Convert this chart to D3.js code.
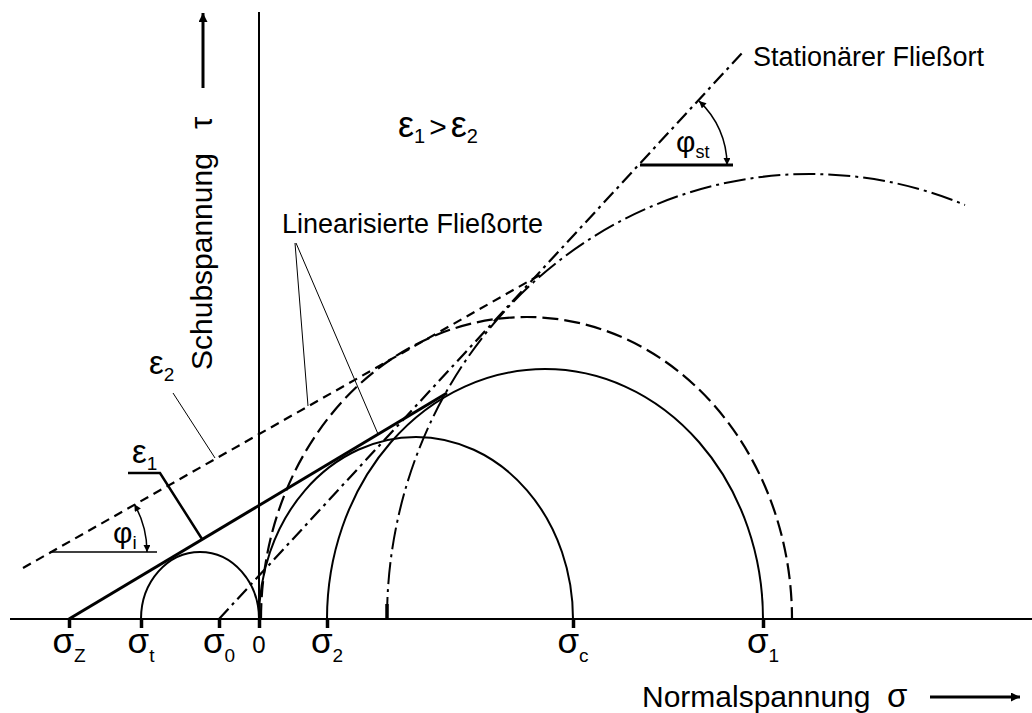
<!DOCTYPE html>
<html>
<head>
<meta charset="utf-8">
<script src="https://cdn.jsdelivr.net/npm/d3@7"></script>
<style>
  body { margin: 0; background: #fff; }
  svg { display: block; }
  text { font-family: "Liberation Sans", Arial, Helvetica, sans-serif; fill: #000; }
</style>
</head>
<body>
<svg id="chart" width="1032" height="713"></svg>
<script>
// ---- Mohr diagram data (stress units, σ along x, τ along y) ----

// marked normal stresses on the σ axis
const tickValues = [-19.0, -11.8, -4.0, 0, 6.8, 31.4, 50.4];
const tickBase   = ["σ", "σ", "σ", "0", "σ", "σ", "σ"];
const tickSub    = ["Z", "t", "0", "", "2", "c", "1"];

// Mohr circles: left / right intersection with σ axis, peak τ, optional σ where the arc stops
const circleNames = ["small", "medium", "large", "mediumDashed", "bigDashed"];
const circleLeft  = [-11.8, 0.0, 6.8, 0.2, 12.8];
const circleRight = [0.0, 31.4, 50.4, 53.3, 97.4];
const circleTop   = [6.7, 18.2, 25.0, 30.2, 44.5];
const circleEnd   = [null, null, null, null, 70.6];

// yield loci as straight lines [σ, τ]
const lineNames = ["eps1", "eps2", "stationary"];
const lineStart = [[-19.0, 0.0], [-23.6, 5.1], [-4.0, 0.0]];
const lineEnd   = [[18.8, 22.6], [28.6, 34.7], [48.4, 56.7]];

// leader lines pointing from labels to the loci
const leaderLinearA = [[3.6, 37.6], [4.9, 21.3]];
const leaderLinearB = [[3.7, 37.6], [11.9, 18.5]];
const leaderEps2    = [[-8.6, 22.6], [-4.4, 16.1]];
const leaderEps1    = [[-13.1, 14.6], [-9.9, 14.6], [-5.7, 8.0]];

// friction angle markers: vertex [σ, τ], length of horizontal leg, arc radius
const angleNames  = ["phi_i", "phi_st"];
const angleVertex = [[-20.9, 6.7], [38.1, 45.4]];
const angleLeg    = [10.7, 9.3];
const angleRadius = [9.7, 8.7];
const angleLine   = ["eps2", "stationary"];

// ---- scales ----
const x = d3.scaleLinear().domain([0, 10]).range([259, 359]);
const y = d3.scaleLinear().domain([0, 10]).range([619, 519]);

const svg = d3.select("#chart");

// arrow markers
const defs = svg.append("defs");
defs.append("marker")
  .attr("id", "head")
  .attr("viewBox", "0 0 10 10")
  .attr("refX", 10).attr("refY", 5)
  .attr("markerUnits", "userSpaceOnUse")
  .attr("markerWidth", 9).attr("markerHeight", 7)
  .attr("orient", "auto-start-reverse")
  .append("path").attr("d", "M0,0 L10,5 L0,10 Z").attr("fill", "#000");

defs.append("marker")
  .attr("id", "bighead")
  .attr("viewBox", "0 0 10 10")
  .attr("refX", 10).attr("refY", 5)
  .attr("markerUnits", "userSpaceOnUse")
  .attr("markerWidth", 14).attr("markerHeight", 9)
  .attr("orient", "auto")
  .append("path").attr("d", "M0,0 L10,5 L0,10 Z").attr("fill", "#000");

// ---- axes ----
svg.append("line")
  .attr("x1", x(-24.9)).attr("x2", x(77.3))
  .attr("y1", y(0)).attr("y2", y(0))
  .attr("stroke", "#000").attr("stroke-width", 2);

svg.append("line")
  .attr("x1", x(0)).attr("x2", x(0))
  .attr("y1", y(0)).attr("y2", y(60.7))
  .attr("stroke", "#000").attr("stroke-width", 2);

const axisG = svg.append("g").attr("transform", `translate(0,${y(0)})`);
axisG.call(d3.axisBottom(x).tickValues(tickValues).tickSizeInner(9).tickSizeOuter(0).tickFormat(""));
axisG.select(".domain").remove();
axisG.selectAll(".tick line").attr("stroke", "#000").attr("stroke-width", 3.5);

tickValues.forEach((v, i) => {
  const t = svg.append("text")
    .attr("x", x(v)).attr("y", 653)
    .attr("text-anchor", "middle");
  if (tickSub[i]) {
    t.append("tspan").attr("font-size", 35).text(tickBase[i]);
    t.append("tspan").attr("font-size", 19).attr("dy", 9).text(tickSub[i]);
  } else {
    t.attr("font-size", 24).text(tickBase[i]);
  }
});

// axis titles
svg.append("text")
  .attr("transform", "translate(212,370) rotate(-90)")
  .attr("font-size", 30).text("Schubspannung");
svg.append("text")
  .attr("transform", "translate(212,129) rotate(-90)")
  .attr("font-size", 31).text("τ");
svg.append("line")
  .attr("x1", 203).attr("x2", 203).attr("y1", 88).attr("y2", 13)
  .attr("stroke", "#000").attr("stroke-width", 3)
  .attr("marker-end", "url(#bighead)");

svg.append("text").attr("x", 642).attr("y", 707).attr("font-size", 30).text("Normalspannung");
svg.append("text").attr("x", 887).attr("y", 707).attr("font-size", 33).text("σ");
svg.append("line")
  .attr("x1", 930).attr("x2", 1020).attr("y1", 697).attr("y2", 697)
  .attr("stroke", "#000").attr("stroke-width", 3)
  .attr("marker-end", "url(#bighead)");

// ---- Mohr circles ----
const circleStyle = {
  small:        { width: 2, dash: null },
  medium:       { width: 2, dash: null },
  large:        { width: 2, dash: null },
  mediumDashed: { width: 2.2, dash: "16,6" },
  bigDashed:    { width: 2, dash: "22,5,3,5" }
};

circleNames.forEach((name, i) => {
  const l = circleLeft[i], r = circleRight[i];
  const cx = x((l + r) / 2);
  const rx = x(r) - cx;
  const ry = y(0) - y(circleTop[i]);
  let ex = x(r), ey = y(0);
  if (circleEnd[i] !== null) {
    ex = x(circleEnd[i]);
    const u = (ex - cx) / rx;
    ey = y(0) - ry * Math.sqrt(1 - u * u);
  }
  const st = circleStyle[name];
  svg.append("path")
    .attr("d", `M${x(l)},${y(0)} A${rx},${ry} 0 0 1 ${ex},${ey}`)
    .attr("fill", "none").attr("stroke", "#000")
    .attr("stroke-width", st.width)
    .attr("stroke-dasharray", st.dash);
});

// heavy start dash of the outer dashed circle
svg.append("line")
  .attr("x1", x(circleLeft[4])).attr("x2", x(circleLeft[4]))
  .attr("y1", y(0)).attr("y2", y(1.5))
  .attr("stroke", "#000").attr("stroke-width", 3.5);

// ---- yield loci ----
const lineStyle = {
  eps1:       { width: 3, dash: null },
  eps2:       { width: 2.2, dash: "9,6" },
  stationary: { width: 2.2, dash: "14,5,3,5" }
};

lineNames.forEach((name, i) => {
  const st = lineStyle[name];
  svg.append("line")
    .attr("x1", x(lineStart[i][0])).attr("y1", y(lineStart[i][1]))
    .attr("x2", x(lineEnd[i][0])).attr("y2", y(lineEnd[i][1]))
    .attr("stroke", "#000").attr("stroke-width", st.width)
    .attr("stroke-dasharray", st.dash);
});

// ---- leader lines ----
const pl = d3.line().x(d => x(d[0])).y(d => y(d[1]));
[leaderLinearA, leaderLinearB, leaderEps2].forEach(pts => {
  svg.append("path").attr("d", pl(pts))
    .attr("fill", "none").attr("stroke", "#000").attr("stroke-width", 1);
});
svg.append("path").attr("d", pl(leaderEps1))
  .attr("fill", "none").attr("stroke", "#000").attr("stroke-width", 2.5);

// ---- friction angles ----
angleNames.forEach((name, i) => {
  const [vs, vt] = angleVertex[i];
  const cx = x(vs), cy = y(vt);
  const li = lineNames.indexOf(angleLine[i]);
  const a = Math.atan2(
    y(lineStart[li][1]) - y(lineEnd[li][1]),
    x(lineEnd[li][0]) - x(lineStart[li][0]));
  const R = x(angleRadius[i]) - x(0);
  svg.append("line")
    .attr("x1", cx).attr("y1", cy)
    .attr("x2", x(vs + angleLeg[i])).attr("y2", cy)
    .attr("stroke", "#000").attr("stroke-width", name === "phi_st" ? 3 : 1.5);
  svg.append("path")
    .attr("d", `M${cx + R * Math.cos(a)},${cy - R * Math.sin(a)} A${R},${R} 0 0 1 ${cx + R},${cy}`)
    .attr("fill", "none").attr("stroke", "#000").attr("stroke-width", 1.5)
    .attr("marker-start", "url(#head)")
    .attr("marker-end", "url(#head)");
});

// ---- annotation text ----
function sub(xp, yp, base, s, size, subSize, shift) {
  const t = svg.append("text").attr("x", xp).attr("y", yp);
  t.append("tspan").attr("font-size", size).text(base);
  t.append("tspan").attr("font-size", subSize).attr("dy", shift).text(s);
  return t;
}

svg.append("text").attr("x", 753).attr("y", 66).attr("font-size", 27).text("Stationärer Fließort");
svg.append("text").attr("x", 282).attr("y", 233).attr("font-size", 27).text("Linearisierte Fließorte");

const rel = svg.append("text").attr("x", 398).attr("y", 137);
rel.append("tspan").attr("font-size", 36).text("ε");
rel.append("tspan").attr("font-size", 20).attr("dy", 6).text("1");
rel.append("tspan").attr("font-size", 30).attr("dy", -6).attr("dx", 4).text(">");
rel.append("tspan").attr("font-size", 36).attr("dx", 4).text("ε");
rel.append("tspan").attr("font-size", 20).attr("dy", 6).text("2");

sub(149, 374, "ε", "2", 33, 19, 7);
sub(132, 463, "ε", "1", 33, 19, 7);
sub(113, 543, "φ", "i", 30, 19, 6);
sub(676, 152, "φ", "st", 30, 18, 6);
</script>
</body>
</html>
